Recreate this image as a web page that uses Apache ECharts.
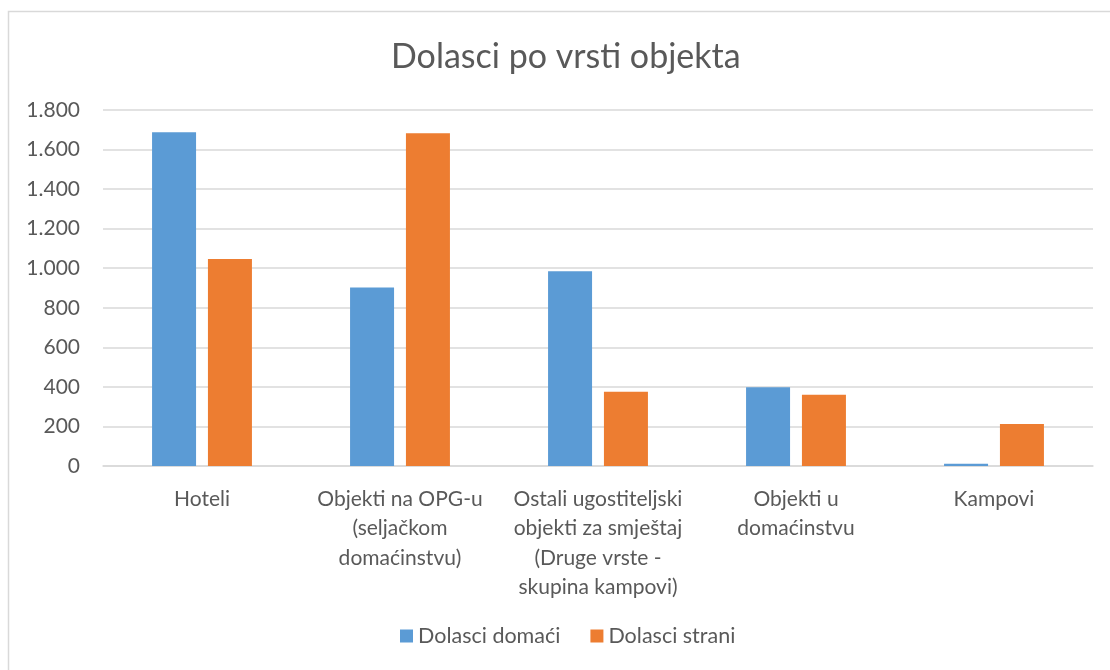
<!DOCTYPE html>
<html><head><meta charset="utf-8">
<script src="https://cdn.jsdelivr.net/npm/echarts@6/dist/echarts.min.js"></script>
<style>html,body{margin:0;padding:0;background:#fff}#c{width:1110px;height:670px}</style>
</head><body><div id="c"></div>
<script>
const categories = ["Hoteli", "Objekti na OPG-u\n(seljačkom\ndomaćinstvu)", "Ostali ugostiteljski\nobjekti za smještaj\n(Druge vrste -\nskupina kampovi)", "Objekti u\ndomaćinstvu", "Kampovi"];
const domaci = [1688, 902, 985, 398, 12];
const strani = [1046, 1683, 375, 360, 212];
const seriesNames = ["Dolasci domaći", "Dolasci strani"];
const titleText = "Dolasci po vrsti objekta";

const font = "Lato, 'Open Sans', sans-serif";
const chart = echarts.init(document.getElementById('c'), null, {renderer: 'canvas'});
chart.setOption({
  animation: false,
  backgroundColor: '#fff',
  graphic: [{type: 'rect', shape: {x: 8.5, y: 11.5, width: 1200, height: 800}, style: {fill: 'none', stroke: '#D9D9D9', lineWidth: 1.5}, silent: true}],
  title: {text: titleText, left: 386, top: 35, textStyle: {fontFamily: font, fontSize: 34, fontWeight: 'normal', color: '#595959'}},
  legend: {bottom: 18, left: 395, itemWidth: 13, itemHeight: 13, itemGap: 30, icon: 'rect',
    textStyle: {fontFamily: font, fontSize: 21.5, color: '#595959'}, data: seriesNames},
  grid: {left: 103, right: 17, top: 110, bottom: 204, containLabel: false},
  xAxis: {type: 'category', data: categories,
    axisLine: {lineStyle: {color: '#D9D9D9', width: 1.5}}, axisTick: {show: false},
    axisLabel: {interval: 0, margin: 18, fontFamily: font, fontSize: 21, color: '#595959', lineHeight: 29.5}},
  yAxis: {type: 'value', min: 0, max: 1800, interval: 200,
    axisLine: {show: false}, axisTick: {show: false},
    splitLine: {lineStyle: {color: '#D9D9D9', width: 1.5}},
    axisLabel: {margin: 23, fontFamily: font, fontSize: 21, color: '#595959',
      formatter: v => String(v).replace(/\B(?=(\d{3})+(?!\d))/g, '.')}},
  series: [
    {name: seriesNames[0], type: 'bar', data: domaci, barWidth: 44, barGap: '27%', itemStyle: {color: '#5B9BD5'}},
    {name: seriesNames[1], type: 'bar', data: strani, barWidth: 44, itemStyle: {color: '#ED7D31'}}
  ]
});
</script></body></html>
